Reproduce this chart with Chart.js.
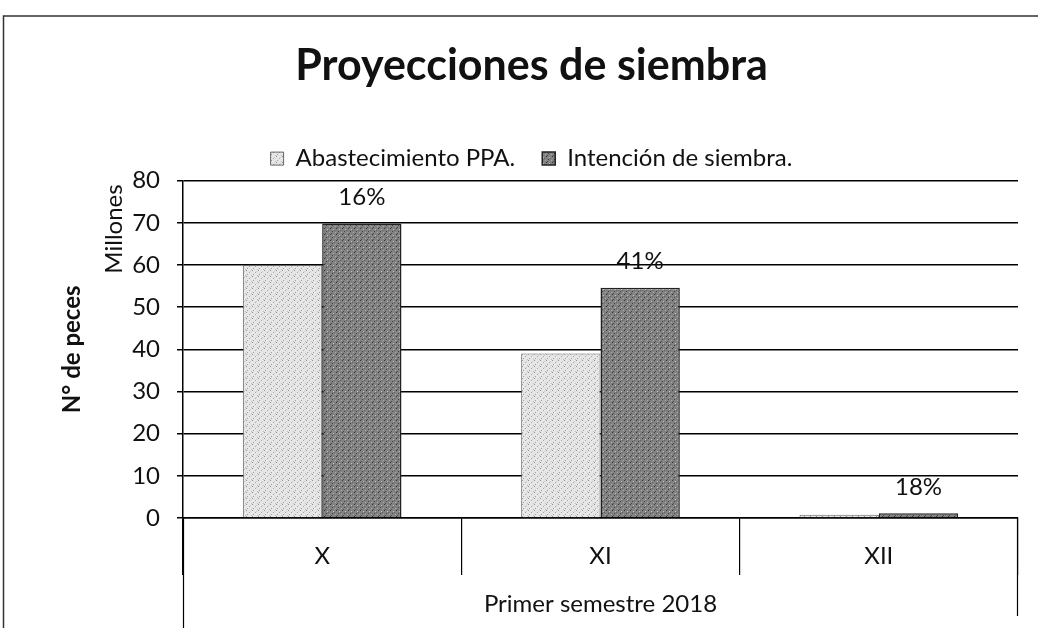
<!DOCTYPE html>
<html>
<head>
<meta charset="utf-8">
<script src="https://cdn.jsdelivr.net/npm/chart.js@4/dist/chart.umd.min.js"></script>
<style>
  html, body { margin: 0; padding: 0; background: #fff; }
  #wrap { width: 1038px; height: 628px; position: relative; }
</style>
</head>
<body>
<div id="wrap"><canvas id="c" width="1038" height="628"></canvas></div>
<script>
const categories = ['X', 'XI', 'XII'];
const seriesNames = ['Abastecimiento PPA.', 'Intención de siembra.'];
const abastecimiento = [60, 39, 0.8];
const intencion = [69.8, 54.6, 1.1];
const pctLabels = ['16%', '41%', '18%'];
const yTicks = [0, 10, 20, 30, 40, 50, 60, 70, 80];

const FONT = 'Lato, "Open Sans", sans-serif';

function makePattern(base, dots) {
  const t = document.createElement('canvas');
  t.width = 6; t.height = 6;
  const g = t.getContext('2d');
  g.fillStyle = base; g.fillRect(0, 0, 6, 6);
  dots.forEach(([x, y, c]) => { g.fillStyle = c; g.fillRect(x, y, 1, 1); });
  return g.createPattern(t, 'repeat');
}
const ctx = document.getElementById('c').getContext('2d');
const lightFill = makePattern('#e6e6e6', [[0,0,'#8f8f8f'],[3,2,'#a8a8a8'],[1,4,'#9d9d9d'],[5,5,'#bcbcbc'],[4,1,'#cccccc']]);
const darkFill = makePattern('#828282', [[0,0,'#333333'],[3,1,'#c0c0c0'],[2,3,'#444444'],[5,4,'#aaaaaa'],[1,5,'#505050'],[4,2,'#626262']]);

const extras = {
  id: 'extras',
  beforeDraw(chart) {
    const c = chart.ctx;
    c.save();
    c.strokeStyle = '#333';
    c.lineWidth = 1.5;
    c.beginPath();
    c.moveTo(1038, 16); c.lineTo(3.5, 16); c.lineTo(3.5, 628);
    c.stroke();
    c.restore();
  },
  afterDraw(chart) {
    const c = chart.ctx;
    const a = chart.chartArea;
    c.save();
    c.strokeStyle = '#000';
    c.lineWidth = 1.2;
    c.beginPath();
    c.moveTo(a.left + 0.5, a.bottom); c.lineTo(a.left + 0.5, 628);
    c.moveTo(a.right - 0.5, a.bottom); c.lineTo(a.right - 0.5, 616);
    c.stroke();
    c.fillStyle = '#111';
    c.font = '24px ' + FONT;
    c.textAlign = 'center';
    c.textBaseline = 'middle';
    c.translate(114, 229);
    c.rotate(-Math.PI / 2);
    c.fillText('Millones', 0, 0);
    c.restore();
    const meta = chart.getDatasetMeta(1);
    c.save();
    c.fillStyle = '#111';
    c.font = '24px ' + FONT;
    c.textAlign = 'center';
    c.textBaseline = 'middle';
    meta.data.forEach((bar, i) => {
      c.fillText(pctLabels[i], bar.x, bar.y - 26);
    });
    c.restore();
  }
};

new Chart(ctx, {
  type: 'bar',
  data: {
    labels: categories,
    datasets: [
      { label: seriesNames[0], data: abastecimiento, backgroundColor: lightFill, borderColor: '#666', borderWidth: 1 },
      { label: seriesNames[1], data: intencion, backgroundColor: darkFill, borderColor: '#222', borderWidth: 1.5 }
    ]
  },
  options: {
    responsive: false,
    animation: false,
    devicePixelRatio: 1,
    categoryPercentage: 0.57,
    barPercentage: 1.0,
    layout: { padding: { left: 45, right: 20, top: 0, bottom: 0 } },
    plugins: {
      tooltip: { enabled: false },
      title: {
        display: true,
        text: 'Proyecciones de siembra',
        color: '#111',
        font: { family: FONT, size: 43, weight: 'bold' },
        padding: { top: 40, bottom: 28 }
      },
      legend: {
        display: true,
        position: 'top',
        labels: {
          color: '#111',
          font: { family: FONT, size: 24 },
          boxWidth: 13,
          boxHeight: 13,
          padding: 27
        }
      }
    },
    scales: {
      x: {
        afterFit(scale) { scale.height = 110; },
        grid: { display: true, drawOnChartArea: false, offset: true, tickLength: 57, color: '#000', lineWidth: 1.2 },
        border: { display: true, color: '#000', width: 1.5 },
        ticks: { color: '#111', font: { family: FONT, size: 24 }, padding: -33 },
        title: {
          display: true,
          text: 'Primer semestre 2018',
          color: '#111',
          font: { family: FONT, size: 24 },
          padding: { top: 0, bottom: 9 }
        }
      },
      y: {
        min: 0,
        max: 80,
        afterFit(scale) { scale.width = 138; },
        afterBuildTicks(scale) { scale.ticks = yTicks.map(v => ({ value: v })); },
        grid: { color: '#000', lineWidth: 1.5, tickLength: 6 },
        border: { display: true, color: '#000', width: 1.5 },
        ticks: { color: '#111', font: { family: FONT, size: 24 }, padding: 17 },
        title: {
          display: true,
          text: 'N° de peces',
          color: '#111',
          font: { family: FONT, size: 24, weight: 'bold' },
          padding: { top: 13, bottom: 0 }
        }
      }
    }
  },
  plugins: [extras]
});
</script>
</body>
</html>
